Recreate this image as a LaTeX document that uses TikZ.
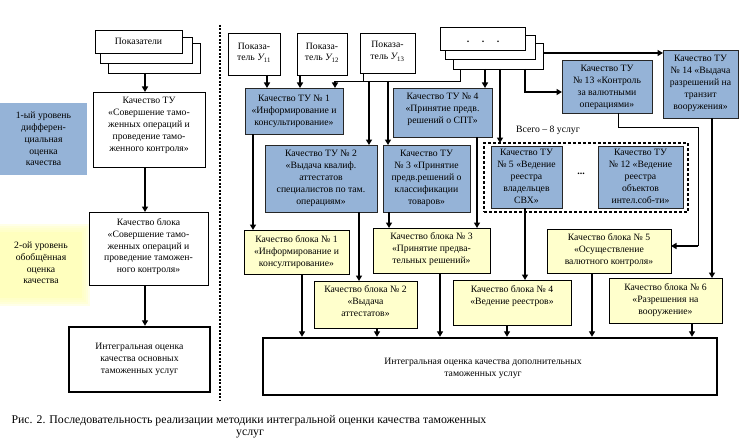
\documentclass[tikz,border=0pt]{standalone}
\usepackage{fontspec}
\setmainfont{Liberation Serif}
\usetikzlibrary{arrows.meta}
\definecolor{tublue}{RGB}{149,179,215}
\definecolor{blkyellow}{RGB}{255,255,204}
\definecolor{lblyellow}{RGB}{255,255,190}
\newcommand{\mkbox}[6]{\node[#1, minimum width={(#4)-(#2)}, minimum height={(#5)-(#3)}] (#6) at ({((#2)+(#4))/2},{((#3)+(#5))/2}) {};}
\begin{document}
\begin{tikzpicture}[x=1pt,y=-1pt,
  font=\fontsize{9.7}{11.8}\selectfont,
  every node/.style={inner sep=0pt, outer sep=0pt},
  wbox/.style={draw, line width=0.8pt, fill=white},
  bbox/.style={draw=black!85, line width=0.8pt, fill=tublue},
  ybox/.style={draw, line width=0.8pt, fill=blkyellow},
  ibox/.style={draw, line width=2.8pt, fill=white},
  grp/.style={draw, line width=1.6pt, dash pattern=on 3pt off 2pt},
  lblue/.style={fill=tublue},
  lyel/.style={fill=lblyellow},
  txt/.style={align=center},
  toptxt/.style={align=center, anchor=north},
  arr/.style={line width=1.5pt, -{Triangle[length=5.5pt,width=6pt]}},
  thinl/.style={line width=0.8pt}]
\useasboundingbox (0,0) rectangle (741,441);
\fill[white] (0,0) rectangle (741,441);

% separator
\coordinate (sepTop) at (220,25);
\coordinate (sepBot) at (220,400);
\draw[line width=1.8pt, dash pattern=on 2pt off 1.5pt] (sepTop) -- (sepBot);

% ---------- left column ----------
\mkbox{wbox}{108}{43}{200}{73}{P3}
\mkbox{wbox}{100}{37}{192}{63}{P2}
\mkbox{wbox}{95}{30}{182}{53}{P1}
\node[txt] (P1t) at (P1.center) {Показатели};

\mkbox{lblue}{0}{103}{87}{175}{L1}
\node[txt] (L1t) at (L1.center) {1-ый уровень\\дифферен-\\циальная\\оценка\\качества};
% soft glow around the yellow label
\foreach \g in {8,6,4,2}
  {\fill[lblyellow, opacity=0.35] (0,232-\g) rectangle (82+\g,298+\g);}
\mkbox{lyel}{0}{232}{82}{298}{L2}
\node[txt] (L2t) at ([yshift=2pt]L2.center) {2-ой уровень\\обобщённая\\оценка\\качества};

\mkbox{wbox}{93}{92}{205}{167}{LTU}
\node[toptxt] (LTUt) at ([yshift=-5.5pt]LTU.north) {Качество ТУ\\«Совершение тамо-\\женных операций и\\проведение тамо-\\женного контроля»};
\mkbox{wbox}{89}{212}{208}{285}{LBL}
\node[toptxt] (LBLt) at ([yshift=-6.5pt]LBL.north) {Качество блока\\«Совершение тамо-\\женных операций и\\проведение таможен-\\ного контроля»};
\mkbox{ibox}{69}{327}{210}{392}{LINT}
\node[txt] (LINTt) at (LINT.center) {Интегральная оценка\\качества основных\\таможенных услуг};

% ---------- right side: indicators ----------
\mkbox{wbox}{228}{33}{280}{75}{Y11}
\node[txt] (Y11t) at ([yshift=1.5pt]Y11.center) {Показа-\\тель {\itshape У}\textsubscript{11}};
\mkbox{wbox}{297}{33}{347}{75}{Y12}
\node[txt] (Y12t) at ([yshift=1.5pt]Y12.center) {Показа-\\тель {\itshape У}\textsubscript{12}};
\mkbox{wbox}{360}{33}{415}{73}{Y13}
\node[txt] (Y13t) at ([yshift=1.5pt]Y13.center) {Показа-\\тель {\itshape У}\textsubscript{13}};

\mkbox{wbox}{453}{43}{543}{69}{S3}
\mkbox{wbox}{445}{35}{535}{59}{S2}
\mkbox{wbox}{440}{27}{525}{50}{S1}
\node[txt, font=\bfseries] (S1t) at (483,42) {.\quad\ .\quad\ .};

% ---------- services ----------
\mkbox{bbox}{245}{88}{343}{134}{TU1}
\node[toptxt] (TU1t) at ([yshift=-7pt]TU1.north) {Качество ТУ № 1\\«Информирование и\\консультирование»};
\mkbox{bbox}{393}{88}{492}{137}{TU4}
\node[toptxt] (TU4t) at ([yshift=-5.5pt]TU4.north) {Качество ТУ № 4\\«Принятие предв.\\решений о СПТ»};
\mkbox{bbox}{265}{145}{377}{212}{TU2}
\node[toptxt] (TU2t) at ([yshift=-5.5pt]TU2.north) {Качество ТУ № 2\\«Выдача квалиф.\\аттестатов\\специалистов по там.\\операциям»};
\mkbox{bbox}{383}{145}{470}{212}{TU3}
\node[toptxt] (TU3t) at ([yshift=-5.5pt]TU3.north) {Качество ТУ\\№ 3 «Принятие\\предв.решений о\\классификации\\товаров»};

\mkbox{grp}{484}{143}{688}{212}{G}
\mkbox{bbox}{491}{146}{562}{208}{TU5}
\node[toptxt] (TU5t) at ([yshift=-3.5pt]TU5.north) {Качество ТУ\\№ 5 «Ведение\\реестра\\владельцев\\СВХ»};
\mkbox{bbox}{598}{146}{683}{208}{TU12}
\node[toptxt] (TU12t) at ([yshift=-3.5pt]TU12.north) {Качество ТУ\\№ 12 «Ведение\\реестра\\объектов\\интел.соб-ти»};
\node[txt, font=\bfseries] (dots) at (581,174) {...};
\node[txt] (all) at (548,130) {Всего – 8 услуг};

\mkbox{bbox}{562}{60}{652}{113}{TU13}
\node[toptxt] (TU13t) at ([yshift=-5.5pt]TU13.north) {Качество ТУ\\№ 13 «Контроль\\за валютными\\операциями»};
\mkbox{bbox}{663}{50}{738}{118}{TU14}
\node[toptxt] (TU14t) at ([yshift=-5.5pt]TU14.north) {Качество ТУ\\№ 14 «Выдача\\разрешений на\\транзит\\вооружения»};

% ---------- blocks ----------
\mkbox{ybox}{244}{230}{349}{274}{B1}
\node[toptxt] (B1t) at ([yshift=-6pt]B1.north) {Качество блока № 1\\«Информирование и\\консултирование»};
\mkbox{ybox}{314}{281}{417}{328}{B2}
\node[toptxt] (B2t) at ([yshift=-5pt]B2.north) {Качество блока № 2\\«Выдача\\аттестатов»};
\mkbox{ybox}{373}{228}{490}{273}{B3}
\node[toptxt] (B3t) at ([yshift=-5pt]B3.north) {Качество блока № 3\\«Принятие предва-\\тельных решений»};
\mkbox{ybox}{453}{280}{571}{325}{B4}
\node[toptxt] (B4t) at ([yshift=-5.5pt]B4.north) {Качество блока № 4\\«Ведение реестров»};
\mkbox{ybox}{547}{229}{671}{273}{B5}
\node[toptxt] (B5t) at ([yshift=-5pt]B5.north) {Качество блока № 5\\«Осуществление\\валютного контроля»};
\mkbox{ybox}{609}{278}{722}{323}{B6}
\node[toptxt] (B6t) at ([yshift=-5.5pt]B6.north) {Качество блока № 6\\«Разрешения на\\вооружение»};

\mkbox{ibox}{263}{338}{717}{395}{INT}
\node[txt] (INTt) at ([xshift=-7pt,yshift=-1.5pt]INT.center) {Интегральная оценка качества дополнительных\\таможенных услуг};

% ---------- caption ----------
\node[txt, font=\fontsize{11.8}{13}\selectfont] (cap1) at (249,421) {Рис. 2. Последовательность реализации методики интегральной оценки качества таможенных};
\node[txt, font=\fontsize{11.8}{13}\selectfont] (cap2) at (250,434) {услуг};

% ---------- helper coordinates ----------
\foreach \xx in {145,253,267,300,302,335,359,363,369,377,388,389,440,460,477,485,500,507,525,592,618,692,698,712}
  {\coordinate (x\xx) at (\xx,0);}
\foreach \yy in {53,81,92,127,246}
  {\coordinate (y\yy) at (0,\yy);}

% ---------- connectors ----------
\draw[arr] (x145 |- P3.south) -- (x145 |- LTU.north);
\draw[arr] (x145 |- LTU.south) -- (x145 |- LBL.north);
\draw[arr, shorten >=1.2pt] (x145 |- LBL.south) -- (x145 |- LINT.north);

\draw[arr] (x267 |- Y11.south) -- (x267 |- TU1.north);
\draw[arr] (x300 |- Y12.south) -- (x300 |- TU1.north);
\draw[thinl] (x363 |- Y13.south) -- (x363 |- y81);
\draw[thinl] (x335 |- y81) -- (x460 |- y81) -- (x460 |- S3.south);
\draw[arr] (x335 |- y81) -- (x335 |- TU1.north);
\draw[arr] (x369 |- y81) -- (x369 |- TU2.north);
\draw[arr] (x388 |- y81) -- (x388 |- TU3.north);
\draw[arr] (x485 |- S3.south) -- (x485 |- TU4.north);
\draw[arr] (x500 |- S3.south) -- (x500 |- G.north);
\draw[arr] (x525 |- S3.south) -- (x525 |- y92) -- (TU13.west |- y92);
\draw[arr] (S3.east |- y53) -- (TU14.west |- y53);

\draw[arr] (x253 |- TU1.south) -- (x253 |- B1.north);
\draw[arr] (x359 |- TU2.south) -- (x359 |- B2.north);
\draw[arr] (x389 |- TU3.south) -- (x389 |- B3.north);
\draw[arr] (x477 |- TU4.south) -- (x477 |- B3.north);
\draw[arr] (x525 |- TU5.south) -- (x525 |- B4.north);
\draw[thinl] (x618 |- TU13.south) -- (x618 |- y127) -- (x698 |- y127) -- (x698 |- y246);
\draw[arr] (x698 |- y246) -- (B5.east |- y246);
\draw[arr] (x712 |- TU14.south) -- (x712 |- B6.north);

\draw[arr, shorten >=1.2pt] (x302 |- B1.south) -- (x302 |- INT.north);
\draw[arr, shorten >=1.2pt] (x377 |- B2.south) -- (x377 |- INT.north);
\draw[arr, shorten >=1.2pt] (x440 |- B3.south) -- (x440 |- INT.north);
\draw[arr, shorten >=1.2pt] (x507 |- B4.south) -- (x507 |- INT.north);
\draw[arr, shorten >=1.2pt] (x592 |- B5.south) -- (x592 |- INT.north);
\draw[arr, shorten >=1.2pt] (x692 |- B6.south) -- (x692 |- INT.north);
\end{tikzpicture}
\end{document}
